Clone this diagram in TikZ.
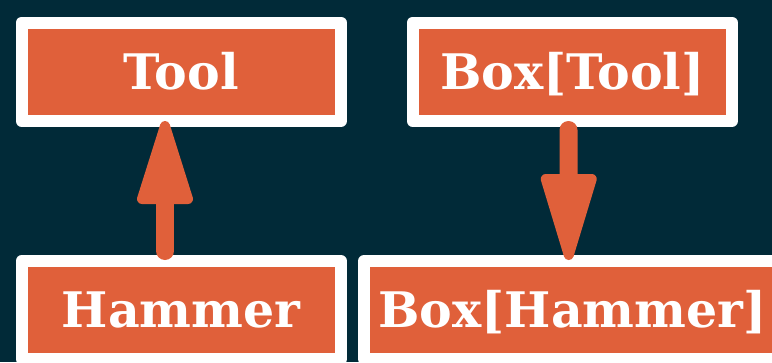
\documentclass[tikz,border=0pt]{standalone}
\usepackage{fontspec}
\setmainfont{DejaVu Serif}
\definecolor{bgnavy}{RGB}{1,42,56}
\definecolor{boxorange}{RGB}{224,96,58}
\tikzset{
  typebox/.style={draw=white, fill=boxorange, line width=12pt, line join=round,
    inner sep=0pt, minimum height=98.5pt, text=white,
    font=\fontsize{49}{58}\selectfont\bfseries, text height=36pt, text depth=1pt},
  shaft/.style={draw=boxorange, line width=18pt, line cap=round},
  headtip/.style={fill=boxorange, draw=boxorange, line width=10pt, line join=round},
}
\begin{document}
\begin{tikzpicture}[x=1pt,y=-1pt]
  \fill[bgnavy] (0,0) rectangle (772,362);
  \useasboundingbox (0,0) rectangle (772,362);
  \begin{scope}
    \clip (0,0) rectangle (772,362);
    \node[typebox, minimum width=319.5pt] (tool) at (181.25,71.75) {Tool};
    \node[typebox, minimum width=319.5pt] (boxtool) at (572.25,71.75) {Box[Tool]};
    \node[typebox, minimum width=319.5pt, minimum height=98pt] (hammer) at (181.25,310) {Hammer};
    \node[typebox, minimum width=417pt, minimum height=98pt] (boxhammer) at (572.5,310) {Box[Hammer]};
    % Hammer -> Tool
    \draw[shaft, shorten <=4pt, shorten >=40pt]
      ([xshift=-16.25pt]hammer.north) -- ([xshift=-16.25pt]tool.south);
    \path[headtip] ([xshift=-16.25pt,yshift=1pt]tool.south) -- ++(-23,73) -- ++(46,0) -- cycle;
    % Box[Tool] -> Box[Hammer]
    \draw[shaft, shorten <=3pt, shorten >=40pt]
      ([xshift=-3.75pt]boxtool.south) -- ([xshift=-3.75pt]boxhammer.north);
    \path[headtip] ([xshift=-3.75pt]boxhammer.north) -- ++(-23,-76) -- ++(46,0) -- cycle;
  \end{scope}
\end{tikzpicture}
\end{document}
